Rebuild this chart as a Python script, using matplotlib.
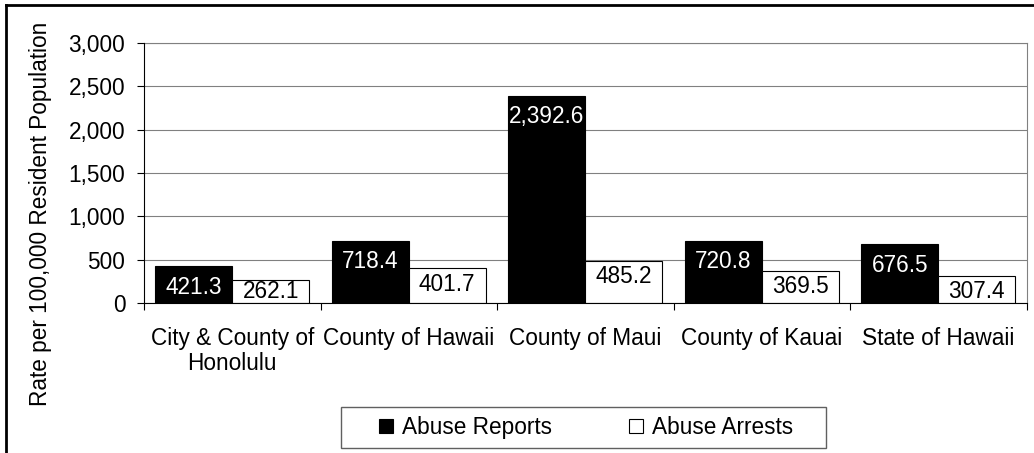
import matplotlib
matplotlib.use("Agg")
import matplotlib.pyplot as plt
from matplotlib.patches import Patch, Rectangle
from matplotlib.lines import Line2D
import numpy as np

categories = ["City & County of\nHonolulu", "County of Hawaii", "County of Maui",
              "County of Kauai", "State of Hawaii"]
abuse_reports = [421.3, 718.4, 2392.6, 720.8, 676.5]
abuse_arrests = [262.1, 401.7, 485.2, 369.5, 307.4]
y_ticks = [0, 500, 1000, 1500, 2000, 2500, 3000]

plt.rcParams["font.family"] = ["Liberation Sans", "DejaVu Sans"]
FS = 16.3

W, H = 1034, 453
fig = plt.figure(figsize=(W / 100, H / 100), dpi=100)
ax = fig.add_axes([144 / W, 1 - 303 / H, (1026.5 - 144) / W, (303 - 43) / H])

x = np.arange(len(categories))
bw = 0.435
ax.bar(x - bw / 2, abuse_reports, bw, color="black", edgecolor="black", linewidth=0.8, zorder=3)
ax.bar(x + bw / 2, abuse_arrests, bw, color="white", edgecolor="black", linewidth=0.8, zorder=3)

ax.set_xlim(-0.5, len(categories) - 0.5)
ax.set_ylim(0, 3000)

# value labels, placed inside the top of each bar
px = 3000 / 260.0
for xi, v in zip(x, abuse_reports):
    yc = max(v - 21 * px, 12 * px)
    ax.text(xi - bw / 2, yc, f"{v:,.1f}", color="white", ha="center", va="center",
            fontsize=FS, zorder=4)
for xi, v in zip(x, abuse_arrests):
    yc = max(v - 16 * px, 11.5 * px)
    ax.text(xi + bw / 2, yc, f"{v:,.1f}", color="black", ha="center", va="center",
            fontsize=FS, zorder=4)

# axes styling
ax.set_yticks(y_ticks)
ax.set_yticklabels([f"{t:,}" for t in y_ticks], fontsize=FS)
ax.set_xticks(x)
ax.set_xticklabels(categories, fontsize=FS, linespacing=1.15)
ax.set_xticks(np.arange(-0.5, len(categories)), minor=True)
ax.tick_params(axis="x", which="major", length=0, pad=17)
ax.tick_params(axis="x", which="minor", length=5, width=0.8, direction="out", color="black")
ax.tick_params(axis="y", length=5, width=0.8, direction="out", pad=8.5, color="black")
ax.yaxis.grid(True, color="#808080", linewidth=0.8, zorder=0)
ax.set_axisbelow(True)
for s in ("left", "bottom"):
    ax.spines[s].set_color("black")
    ax.spines[s].set_linewidth(0.8)
    ax.spines[s].set_zorder(5)
for s in ("top", "right"):
    ax.spines[s].set_color("#808080")
    ax.spines[s].set_linewidth(0.8)

fig.text(41 / W, 1 - 214 / H, "Rate per 100,000 Resident Population", rotation=90,
         ha="center", va="center", fontsize=FS)

# legend with its own frame
handles = [Patch(facecolor="black", edgecolor="black", linewidth=0.8),
           Patch(facecolor="white", edgecolor="black", linewidth=0.8)]
fig.legend(handles, ["Abuse Reports", "Abuse Arrests"], loc="center",
           bbox_to_anchor=(586 / W, 1 - 427.5 / H), bbox_transform=fig.transFigure,
           ncol=2, frameon=False, fontsize=FS, handlelength=0.6, handleheight=0.6,
           handletextpad=0.4, columnspacing=3.4, borderpad=0)
fig.patches.append(Rectangle((341 / W, 1 - 448 / H), 485 / W, 41.5 / H,
                             transform=fig.transFigure, fill=False,
                             edgecolor="#606060", linewidth=1.0))

# outer frame (top and left edges)
fig.lines.append(Line2D([6 / W, 1.0], [1 - 4.5 / H, 1 - 4.5 / H], transform=fig.transFigure,
                        color="black", linewidth=2.0))
fig.lines.append(Line2D([6 / W, 6 / W], [0.0, 1 - 4.5 / H], transform=fig.transFigure,
                        color="black", linewidth=2.0))

fig.savefig("out.png", dpi=100)
